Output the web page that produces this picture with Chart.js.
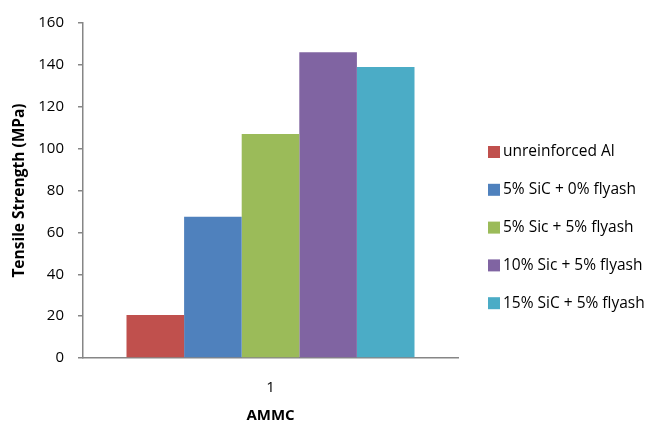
<!DOCTYPE html>
<html>
<head>
<meta charset="utf-8">
<script src="https://cdn.jsdelivr.net/npm/chart.js@4"></script>
<style>
    body { margin: 0; background: #fff; }
    #wrap { width: 653px; height: 425px; }
</style>
</head>
<body>
<div id="wrap"><canvas id="strengthChart" width="653" height="425"></canvas></div>
<script>
// data
const categories = ['1'];
const seriesNames = ['unreinforced Al', '5% SiC + 0% flyash', '5% Sic + 5% flyash', '10% Sic + 5% flyash', '15% SiC + 5% flyash'];
const seriesValues = [[20.5], [67.5], [107], [146], [139]];
const seriesColors = ['#C0504D', '#4F81BD', '#9BBB59', '#8064A2', '#4BACC6'];
const yTicks = [0, 20, 40, 60, 80, 100, 120, 140, 160];

const FONT = 'Open Sans';

// legend drawn to the right of the plot
const sideLegend = {
    id: 'sideLegend',
    afterDraw(chart) {
        const ctx = chart.ctx;
        ctx.save();
        ctx.font = '15.5px "' + FONT + '"';
        ctx.textBaseline = 'middle';
        chart.data.datasets.forEach((ds, i) => {
            const y = 152 + i * 37.8;
            ctx.fillStyle = ds.backgroundColor;
            ctx.fillRect(488, y - 6, 12, 12);
            ctx.fillStyle = '#000';
            ctx.fillText(ds.label, 503, y);
        });
        ctx.restore();
    }
};

const ctx = document.getElementById('strengthChart');

new Chart(ctx, {
    type: 'bar',
    data: {
        labels: categories,
        datasets: seriesNames.map((name, i) => ({
            label: name,
            data: seriesValues[i],
            backgroundColor: seriesColors[i],
            borderWidth: 0,
        })),
    },
    options: {
        responsive: false,
        animation: false,
        layout: { padding: { top: 19, right: 195, bottom: 0, left: 0 } },
        plugins: {
            legend: { display: false },
            tooltip: { enabled: false },
        },
        datasets: {
            bar: { categoryPercentage: 0.768, barPercentage: 1 },
        },
        scales: {
            x: {
                grid: { display: false },
                border: { color: '#868686', width: 1.5 },
                ticks: { color: '#000', font: { family: FONT, size: 15 }, padding: 13 },
                title: {
                    display: true,
                    text: 'AMMC',
                    color: '#000',
                    font: { family: FONT, size: 15, weight: 'bold' },
                    padding: { top: 2, bottom: 0 },
                },
                afterFit(scale) { scale.height = 67; },
            },
            y: {
                min: 0,
                max: 160,
                afterBuildTicks(scale) { scale.ticks = yTicks.map(v => ({ value: v })); },
                grid: { drawOnChartArea: false, color: '#868686', tickLength: 5, lineWidth: 1.5 },
                border: { color: '#868686', width: 1.5 },
                ticks: { color: '#000', font: { family: FONT, size: 15 }, padding: 14 },
                title: {
                    display: true,
                    text: 'Tensile Strength (MPa)',
                    color: '#000',
                    font: { family: FONT, size: 15.5, weight: 'bold' },
                    padding: { top: 10, bottom: 6 },
                },
                afterFit(scale) { scale.width = 83; },
            },
        },
    },
    plugins: [sideLegend],
});
</script>
</body>
</html>
